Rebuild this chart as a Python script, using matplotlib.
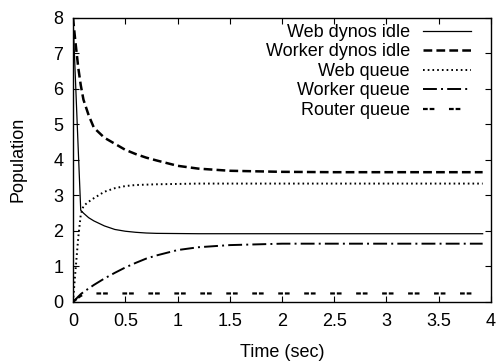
import matplotlib
matplotlib.use("Agg")
import matplotlib.pyplot as plt

# Data
t = [0, 0.02, 0.05, 0.074, 0.1, 0.15, 0.2, 0.3, 0.4, 0.5, 0.6, 0.7, 0.8,
     1.0, 1.2, 1.5, 2.0, 2.5, 3.0, 3.5, 3.92]
web_idle = [8, 6.5, 4.3, 2.58, 2.5, 2.37, 2.28, 2.14, 2.04, 1.99, 1.96, 1.94,
            1.93, 1.925, 1.92, 1.92, 1.92, 1.92, 1.92, 1.92, 1.92]
worker_idle = [8, 7.4, 6.6, 6.1, 5.69, 5.25, 4.9, 4.62, 4.45, 4.28, 4.16,
               4.06, 3.98, 3.83, 3.75, 3.69, 3.66, 3.65, 3.65, 3.65, 3.65]
web_queue = [0, 0.75, 1.8, 2.45, 2.7, 2.82, 2.92, 3.1, 3.2, 3.26, 3.29, 3.3,
             3.31, 3.32, 3.33, 3.33, 3.33, 3.33, 3.33, 3.33, 3.33]
worker_queue = [0, 0.06, 0.15, 0.22, 0.28, 0.38, 0.48, 0.66, 0.82, 0.97,
                1.1, 1.22, 1.31, 1.46, 1.54, 1.6, 1.64, 1.64, 1.64, 1.64, 1.64]
router_queue = [0, 0.05, 0.12, 0.17, 0.21, 0.24, 0.24, 0.24, 0.24, 0.24, 0.24,
                0.24, 0.24, 0.24, 0.24, 0.24, 0.24, 0.24, 0.24, 0.24, 0.24]
labels = ["Web dynos idle", "Worker dynos idle", "Web queue",
          "Worker queue", "Router queue"]
xticks = [0, 0.5, 1, 1.5, 2, 2.5, 3, 3.5, 4]
xticklabels = ["0", "0.5", "1", "1.5", "2", "2.5", "3", "3.5", "4"]
yticks = [0, 1, 2, 3, 4, 5, 6, 7, 8]

plt.rcParams['font.family'] = ['Liberation Sans', 'DejaVu Sans']
plt.rcParams['lines.scale_dashes'] = False
FS = 13

fig = plt.figure(figsize=(5.03, 3.63), dpi=100)
ax = fig.add_axes([73 / 503, 1 - 302 / 363, (491 - 73) / 503, (302 - 17.5) / 363])

series = [web_idle, worker_idle, web_queue, worker_queue, router_queue]
styles = [
    dict(linestyle='-', linewidth=0.9),
    dict(linestyle=(0, (6.3, 3.0)), linewidth=1.8),
    dict(linestyle=(0, (1.2, 2.2)), linewidth=1.4),
    dict(linestyle=(0, (10.0, 3.0, 1.4, 3.0)), linewidth=1.4),
    dict(linestyle=(0, (3.4, 1.4, 3.4, 10.5)), linewidth=1.6),
]
for ys, lab, st in zip(series, labels, styles):
    ax.plot(t, ys, color='black', label=lab, **st)

ax.set_xlim(0, 4)
ax.set_ylim(0, 8)
ax.set_xticks(xticks)
ax.set_xticklabels(xticklabels)
ax.set_yticks(yticks)
ax.tick_params(direction='in', top=True, right=True, length=4, width=0.8,
               labelsize=FS)
ax.tick_params(axis='x', pad=8)
ax.tick_params(axis='y', pad=7)
for s in ax.spines.values():
    s.set_linewidth(1.0)
ax.set_xlabel("Time (sec)", fontsize=FS, labelpad=10)
ax.set_ylabel("Population", fontsize=FS, labelpad=19)

leg = ax.legend(loc='upper right', bbox_to_anchor=(1 - 13.5 / 418, 1),
                frameon=False, markerfirst=False,
                fontsize=FS, handlelength=2.65, handletextpad=0.75,
                borderaxespad=0, borderpad=0.35, labelspacing=0.14)

fig.savefig("out.png", dpi=100)
